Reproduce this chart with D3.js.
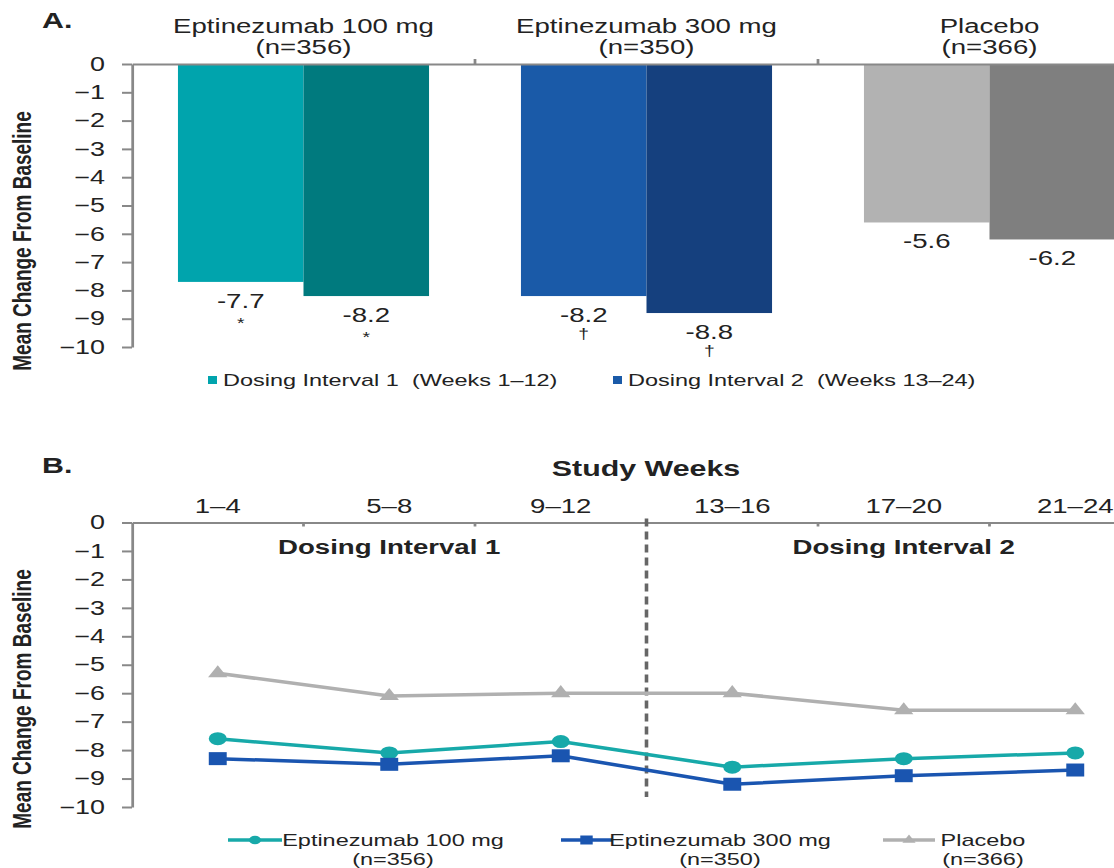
<!DOCTYPE html>
<html>
<head>
<meta charset="utf-8">
<script src="https://cdn.jsdelivr.net/npm/d3@7"></script>
<style>
  body { margin: 0; background: #fff; }
  svg { display: block; font-family: "Liberation Sans", Arial, sans-serif; }
</style>
</head>
<body>
<svg id="chart"></svg>
<script>
// panel A data
const groups = ["Eptinezumab 100 mg", "Eptinezumab 300 mg", "Placebo"];
const groupN = ["(n=356)", "(n=350)", "(n=366)"];
const intervals = ["Dosing Interval 1  (Weeks 1–12)", "Dosing Interval 2  (Weeks 13–24)"];
const interval1 = [-7.7, -8.2, -5.6];
const interval2 = [-8.2, -8.8, -6.2];
const signif1 = ["*", "†", ""];
const signif2 = ["*", "†", ""];

// panel B data
const weeks = ["1–4", "5–8", "9–12", "13–16", "17–20", "21–24"];
const epti100 = [-7.6, -8.1, -7.7, -8.6, -8.3, -8.1];
const epti300 = [-8.3, -8.5, -8.2, -9.2, -8.9, -8.7];
const placebo = [-5.3, -6.1, -6.0, -6.0, -6.6, -6.6];
const yTicks = [0, -1, -2, -3, -4, -5, -6, -7, -8, -9, -10];

// the original picture is stretched sideways, so draw in a narrower box and stretch it
const SX = 1.38;
const W = 1114 / SX, H = 868;
const X = v => v / SX;

const barColors = [["#00a4ad", "#007a7e"], ["#1a5aa8", "#15407e"], ["#b2b2b2", "#7f7f7f"]];
const axisColor = "#888";
const textColor = "#222";

const svg = d3.select("#chart")
    .attr("width", 1114)
    .attr("height", H)
    .attr("viewBox", `0 0 ${W} ${H}`)
    .attr("preserveAspectRatio", "none");

function styleAxis(g) {
    g.selectAll("path, line").attr("stroke", axisColor).attr("stroke-width", 2);
    g.selectAll("text").attr("fill", textColor).attr("font-size", 19.5)
        .attr("font-family", "Liberation Sans, Arial, sans-serif");
}

// ---------- Panel A ----------
const xA = d3.scaleBand().domain(groups).range([X(132), X(1161)]);
const bwA = xA.bandwidth();
const xA1 = d3.scaleBand().domain([0, 1]).range([bwA * 0.134, bwA * 0.866]);
const yA = d3.scaleLinear().domain([0, -10]).range([64, 347]);

svg.append("text").attr("x", X(42)).attr("y", 28)
    .attr("font-size", 22).attr("font-weight", "bold").attr("fill", textColor).text("A.");

svg.append("text")
    .attr("transform", `translate(${X(31)},241) rotate(-90)`)
    .attr("text-anchor", "middle").attr("font-size", 19).attr("font-weight", "bold")
    .attr("fill", textColor).text("Mean Change From Baseline");

const barData = groups.flatMap((g, i) => [
    {group: g, k: 0, v: interval1[i], s: signif1[i], color: barColors[i][0]},
    {group: g, k: 1, v: interval2[i], s: signif2[i], color: barColors[i][1]}
]);

const gA = svg.append("g");
gA.selectAll("rect").data(barData).enter().append("rect")
    .attr("x", d => xA(d.group) + xA1(d.k))
    .attr("y", yA(0))
    .attr("width", xA1.bandwidth())
    .attr("height", d => yA(d.v) - yA(0))
    .attr("fill", d => d.color);

gA.selectAll(".val").data(barData).enter().append("text")
    .attr("class", "val")
    .attr("x", d => xA(d.group) + xA1(d.k) + xA1.bandwidth() / 2)
    .attr("y", d => yA(d.v) + 26)
    .attr("text-anchor", "middle").attr("font-size", 20).attr("fill", textColor)
    .text(d => d.v.toFixed(1));

gA.selectAll(".sig").data(barData.filter(d => d.s)).enter().append("text")
    .attr("class", "sig")
    .attr("x", d => xA(d.group) + xA1(d.k) + xA1.bandwidth() / 2)
    .attr("y", d => yA(d.v) + (d.s === "*" ? 46 : 43))
    .attr("text-anchor", "middle").attr("font-size", 14).attr("fill", textColor)
    .text(d => d.s);

// top axis line and group boundary ticks
svg.append("g").attr("transform", `translate(0,${yA(0)})`)
    .call(d3.axisTop(xA).tickSize(0).tickFormat(""))
    .call(styleAxis);
svg.append("g").selectAll("line").data(groups.slice(1)).enter().append("line")
    .attr("x1", d => xA(d)).attr("x2", d => xA(d))
    .attr("y1", yA(0) - 5).attr("y2", yA(0))
    .attr("stroke", axisColor).attr("stroke-width", 2);

svg.append("g").attr("transform", `translate(${X(132)},0)`)
    .call(d3.axisLeft(yA).tickValues(yTicks).tickFormat(d3.format("d"))
        .tickSize(X(10)).tickSizeOuter(0).tickPadding(X(17)))
    .call(styleAxis);

// group labels
const labA = svg.append("g").selectAll("g").data(groups).enter().append("g");
labA.append("text")
    .attr("x", d => xA(d) + bwA / 2).attr("y", 33)
    .attr("text-anchor", "middle").attr("font-size", 20).attr("fill", textColor)
    .text(d => d);
labA.append("text")
    .attr("x", d => xA(d) + bwA / 2).attr("y", 54)
    .attr("text-anchor", "middle").attr("font-size", 20).attr("fill", textColor)
    .text((d, i) => groupN[i]);

// legend A
const legA = [{x: 208, color: barColors[0][0]}, {x: 613, color: barColors[1][0]}];
const legAg = svg.append("g").selectAll("g").data(intervals).enter().append("g");
legAg.append("rect")
    .attr("x", (d, i) => X(legA[i].x)).attr("y", 376)
    .attr("width", X(9)).attr("height", 8)
    .attr("fill", (d, i) => legA[i].color);
legAg.append("text")
    .attr("x", (d, i) => X(legA[i].x + 15)).attr("y", 386)
    .attr("font-size", 17).attr("fill", textColor)
    .style("white-space", "pre")
    .text(d => d);

// ---------- Panel B ----------
const xB = d3.scaleBand().domain(weeks).range([X(132), X(1161)]);
const bwB = xB.bandwidth();
const yB = d3.scaleLinear().domain([0, -10]).range([522.5, 807]);
const cx = w => xB(w) + bwB / 2;

svg.append("text").attr("x", X(42)).attr("y", 473)
    .attr("font-size", 22).attr("font-weight", "bold").attr("fill", textColor).text("B.");

svg.append("text")
    .attr("x", X(646)).attr("y", 476)
    .attr("text-anchor", "middle").attr("font-size", 22).attr("font-weight", "bold")
    .attr("fill", textColor).text("Study Weeks");

svg.append("text")
    .attr("transform", `translate(${X(31)},699) rotate(-90)`)
    .attr("text-anchor", "middle").attr("font-size", 19).attr("font-weight", "bold")
    .attr("fill", textColor).text("Mean Change From Baseline");

svg.append("g").attr("transform", `translate(0,${yB(0)})`)
    .call(d3.axisTop(xB).tickSize(0).tickPadding(10))
    .call(styleAxis)
    .call(g => g.selectAll("text").attr("font-size", 20));

// band boundary ticks (the middle one is the dashed divider)
const boundaries = weeks.slice(1).filter((w, i) => i !== 2);
svg.append("g").selectAll("line").data(boundaries).enter().append("line")
    .attr("x1", d => xB(d)).attr("x2", d => xB(d))
    .attr("y1", yB(0)).attr("y2", yB(0) + 4)
    .attr("stroke", axisColor).attr("stroke-width", 2);

svg.append("line")
    .attr("x1", xB(weeks[3])).attr("x2", xB(weeks[3]))
    .attr("y1", yB(0) - 4).attr("y2", 797)
    .attr("stroke", "#666").attr("stroke-width", 2.6)
    .attr("stroke-dasharray", "8,5");

svg.append("g").attr("transform", `translate(${X(132)},0)`)
    .call(d3.axisLeft(yB).tickValues(yTicks).tickFormat(d3.format("d"))
        .tickSize(X(10)).tickSizeOuter(0).tickPadding(X(17)))
    .call(styleAxis);

svg.append("text").attr("x", (X(132) + xB(weeks[3])) / 2).attr("y", 554)
    .attr("text-anchor", "middle").attr("font-size", 20).attr("font-weight", "bold")
    .attr("fill", textColor).text("Dosing Interval 1");
svg.append("text").attr("x", (xB(weeks[3]) + X(1161)) / 2).attr("y", 554)
    .attr("text-anchor", "middle").attr("font-size", 20).attr("font-weight", "bold")
    .attr("fill", textColor).text("Dosing Interval 2");

const series = [
    {name: "Eptinezumab 100 mg", n: "(n=356)", values: epti100, color: "#17a9a9", symbol: d3.symbolCircle, size: 133, legSize: 60},
    {name: "Eptinezumab 300 mg", n: "(n=350)", values: epti300, color: "#1a55b0", symbol: d3.symbolSquare, size: 169, legSize: 81},
    {name: "Placebo", n: "(n=366)", values: placebo, color: "#b0b0b0", symbol: d3.symbolTriangle, size: 85, legSize: 40}
];

const line = d3.line().x((d, i) => cx(weeks[i])).y(d => yB(d));

// placebo drawn first, under the others
const order = [2, 0, 1];
order.forEach(k => {
    const s = series[k];
    const g = svg.append("g");
    g.append("path").datum(s.values)
        .attr("d", line).attr("fill", "none")
        .attr("stroke", s.color).attr("stroke-width", 3.5);
    g.selectAll("path.pt").data(s.values).enter().append("path")
        .attr("class", "pt")
        .attr("transform", (d, i) => `translate(${cx(weeks[i])},${yB(d)})`)
        .attr("d", d3.symbol(s.symbol, s.size))
        .attr("fill", s.color);
});

// legend B
const legB = [{x1: 228, x2: 282, tx: 393}, {x1: 561, x2: 612, tx: 720}, {x1: 883, x2: 935, tx: 983}];
const legBg = svg.append("g").selectAll("g").data(series).enter().append("g");
legBg.append("line")
    .attr("x1", (d, i) => X(legB[i].x1)).attr("x2", (d, i) => X(legB[i].x2))
    .attr("y1", 840).attr("y2", 840)
    .attr("stroke", d => d.color).attr("stroke-width", 3.5);
legBg.append("path")
    .attr("transform", (d, i) => `translate(${X((legB[i].x1 + legB[i].x2) / 2)},840)`)
    .attr("d", d => d3.symbol(d.symbol, d.legSize)())
    .attr("fill", d => d.color);
legBg.append("text")
    .attr("x", (d, i) => X(legB[i].tx)).attr("y", 846)
    .attr("text-anchor", "middle").attr("font-size", 17).attr("fill", textColor)
    .text(d => d.name);
legBg.append("text")
    .attr("x", (d, i) => X(legB[i].tx)).attr("y", 865)
    .attr("text-anchor", "middle").attr("font-size", 17).attr("fill", textColor)
    .text(d => d.n);
</script>
</body>
</html>
